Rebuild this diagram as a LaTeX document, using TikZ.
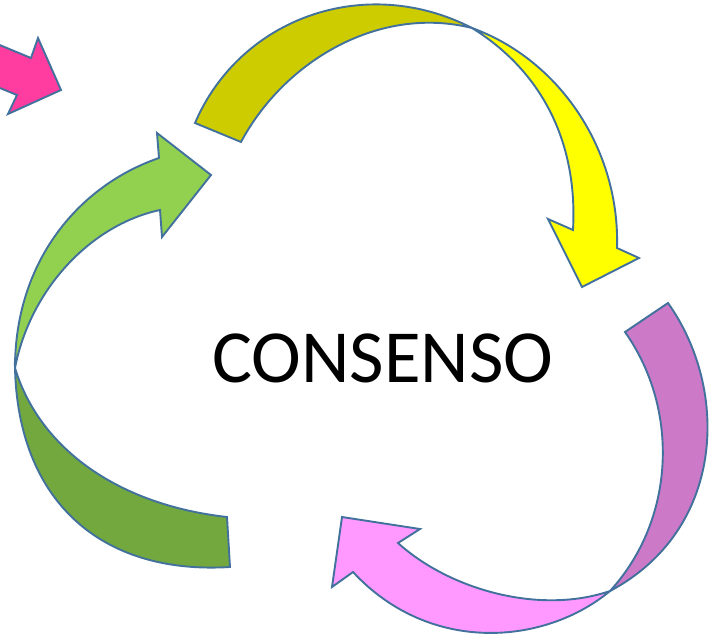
\documentclass[tikz,border=0pt]{standalone}
\usepackage{fontspec}
\setmainfont{Carlito}
\usepackage{tikz}
\usetikzlibrary{positioning}
\usepackage{xcolor}
\definecolor{outlineblue}{RGB}{65,113,156}
\definecolor{olivepart}{RGB}{204,204,0}
\definecolor{yellowpart}{RGB}{255,255,0}
\definecolor{lightgreen}{RGB}{146,208,80}
\definecolor{darkgreen}{RGB}{114,168,62}
\definecolor{purplepart}{RGB}{204,122,200}
\definecolor{pinkpart}{RGB}{255,153,255}
\definecolor{hotpink}{RGB}{255,60,160}
\tikzset{arrowpart/.style={draw=outlineblue, line width=1.9pt, line join=miter}}

\begin{document}
\begin{tikzpicture}[x=1pt, y=-1pt]
    \useasboundingbox (0,0) rectangle (712,635);
    \clip (0,0) rectangle (712,635);

    % Incoming arrow (top left, cut off)
    \draw[arrowpart, fill=hotpink] (-10,41) -- (31,58) -- (38,38) -- (61,90)
        -- (8,114) -- (17,95) -- (-10,84) -- cycle;

    % Top arrow: olive half
    \draw[arrowpart, fill=olivepart] (195,123) -- (241,142)
        .. controls (285,60) and (380,5) .. (472,28)
        .. controls (365,-27) and (240,18) .. (195,123) -- cycle;
    % Top arrow: yellow half with head
    \draw[arrowpart, fill=yellowpart] (472,28)
        .. controls (560,60) and (620,150) .. (617,248)
        -- (639,258) -- (582,287) -- (548,219) -- (573,230)
        .. controls (578,140) and (540,70) .. (472,28) -- cycle;

    % Right arrow: purple half
    \draw[arrowpart, fill=purplepart] (625,332) -- (668,303)
        .. controls (730,390) and (725,530) .. (610,591)
        .. controls (675,520) and (680,410) .. (625,332) -- cycle;
    % Right arrow: pink half with head
    \draw[arrowpart, fill=pinkpart] (610,591)
        .. controls (545,645) and (430,655) .. (353,572)
        -- (332,587) -- (342,517) -- (420,529) -- (398,543)
        .. controls (450,590) and (540,615) .. (610,591) -- cycle;

    % Left arrow: dark green half
    \draw[arrowpart, fill=darkgreen] (15,368)
        .. controls (18,500) and (100,575) .. (230,567)
        -- (227,517)
        .. controls (120,505) and (40,450) .. (15,368) -- cycle;
    % Left arrow: light green half with head
    \draw[arrowpart, fill=lightgreen] (15,368)
        .. controls (30,290) and (90,225) .. (160,210)
        -- (162,237) -- (211,175) -- (157,133) -- (159,158)
        .. controls (80,185) and (15,260) .. (15,368) -- cycle;

    % Centre text
    \node (consenso) at (383,358) {\fontsize{75}{80}\selectfont CONSENSO};
\end{tikzpicture}
\end{document}
